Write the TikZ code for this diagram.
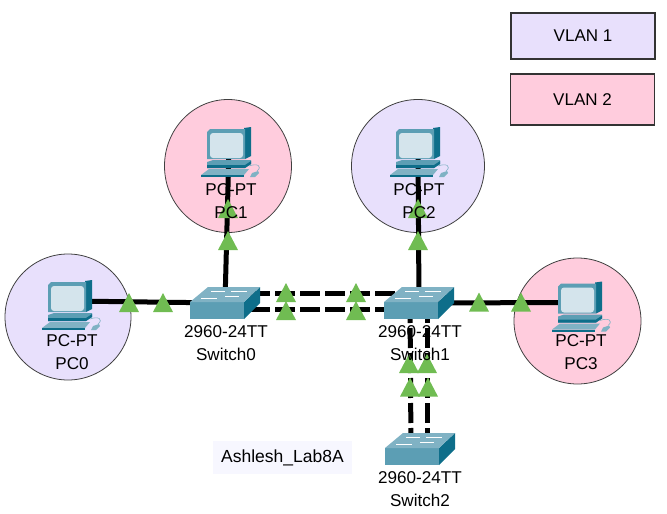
\documentclass[tikz,border=0pt]{standalone}
\usepackage{fontspec}
\setmainfont{Liberation Sans}
\usetikzlibrary{positioning}
\usetikzlibrary{shapes.geometric}
\definecolor{vlanlilac} {RGB} {232,224,252}
\definecolor{vlanpink} {RGB} {255,204,221}
\definecolor{linkgreen} {RGB} {112,188,82}
\definecolor{iconface} {RGB} {92,158,180}
\definecolor{icontop} {RGB} {128,178,196}
\definecolor{iconside} {RGB} {14,110,138}
\definecolor{iconscreen} {RGB} {212,228,236}
\tikzset{
  vlan/.style = {ellipse,draw=black!75,line width=0.8pt,inner sep=0pt},
  legendbox/.style = {rectangle,draw=black!80,line width=1.1pt,minimum width=144pt,font=\fontsize{17}{20}\selectfont},
  lbl/.style = {align=center,inner sep=0pt,font=\fontsize{17.1}{23}\selectfont},
  link/.style = {line width=5pt},
  trunk/.style = {line width=5pt,dash pattern=on 20pt off 5pt},
  up/.style = {isosceles triangle,isosceles triangle stretches,shape border rotate=90,fill=linkgreen,minimum width=20pt,minimum height=19pt,inner sep=0pt,yshift=-3pt},
  pcicon/.pic = {
    \fill [iconside] (15,-20) -- (22,-21) -- (22,8) -- (16,11) -- cycle;
    \fill [iconface] (-22,-16) -- (-19,-19) -- (16,-19) -- (16,11) -- (-22,11) -- cycle;
    \fill [iconscreen,rounded corners=3pt] (-19,-15) rectangle (14,10);
    \fill [iconface] (-22,14) -- (-16,12) -- (22,12) -- (22,16) -- (16,20) -- (-22,20) -- cycle;
    \fill [iconside] (-22,17) -- (16,17) -- (22,13) -- (22,16) -- (16,20) -- (-22,20) -- cycle;
    \fill [icontop] (-28,27) -- (-20,21) -- (20,21) -- (15,27) -- cycle;
    \fill [iconside] (-28,27) rectangle (15,29);
    \fill [icontop] (21,29) -- (23,25) -- (29,23) -- (30,25) -- (26,29) -- cycle;
    \draw [icontop,line width=0.6pt] (20,18) .. controls (28,15) and (34,18) .. (28,23);
  },
  switchicon/.pic = {
    \fill [iconside] (19,-1) -- (35,-16) -- (35,0) -- (19,16) -- cycle;
    \fill [iconface] (-35,-1) rectangle (19,16);
    \fill [icontop] (-35,-1) -- (-17,-16) -- (35,-16) -- (19,-1) -- cycle;
    \draw [white,line width=0.8pt] (-14,-12) -- (0,-12);
    \draw [white,line width=0.8pt] (6,-12) -- (22,-12);
    \draw [white,line width=0.8pt] (-24,-5) -- (-8,-5);
    \draw [white,line width=0.8pt] (0,-7) -- (14,-7);
  }
}

\begin{document}
\begin{tikzpicture}[x=1pt,y=-1pt]
  \useasboundingbox (0,0) rectangle (667,514);

  % vlan areas
  \node [vlan,fill=vlanlilac,minimum width=126pt,minimum height=126pt] (pc0) at (68,317) {};
  \node [vlan,fill=vlanpink,minimum width=127pt,minimum height=133pt] (pc1) at (228,166) {};
  \node [vlan,fill=vlanlilac,minimum width=133pt,minimum height=133pt] (pc2) at (418,166) {};
  \node [vlan,fill=vlanpink,minimum width=127pt,minimum height=126pt] (pc3) at (577.5,321) {};

  \node [legendbox,fill=vlanlilac,minimum height=46pt] (vlan1) at (583,36) {VLAN 1\hspace{6pt}};
  \node [legendbox,fill=vlanpink,minimum height=51pt] (vlan2) at (582.5,99.5) {VLAN 2\hspace{10pt}};
  \node [fill=blue!3,minimum width=139pt,minimum height=33pt,inner sep=0pt,font=\fontsize{17.5}{20}\selectfont] (lab) at (282.5,457.5) {Ashlesh\_Lab8A};

  \coordinate (pc0pic) at (70,301);
  \coordinate (pc1pic) at (229,148);
  \coordinate (pc2pic) at (418,148);
  \coordinate (pc3pic) at (580,302.5);
  \coordinate (sw0) at (225,303);
  \coordinate (sw1) at (419,303);
  \coordinate (sw2) at (420,449);

  % trunk ends
  \coordinate (sw0a) at (225,293);
  \coordinate (sw0b) at (225,309);
  \coordinate (sw1a) at (419,293);
  \coordinate (sw1b) at (419,309);
  \coordinate (sw1c) at (410,303);
  \coordinate (sw1d) at (427,303);
  \coordinate (sw2a) at (411,449);
  \coordinate (sw2b) at (427,449);

  \draw [link] (pc0pic) -- (sw0);
  \draw [link] (pc1pic) -- (sw0);
  \draw [link] (pc2pic) -- (sw1);
  \draw [link] (pc3pic) -- (sw1);
  \draw [trunk] (sw0a) -- (sw1a);
  \draw [trunk] (sw0b) -- (sw1b);
  \draw [trunk] (sw1c) -- (sw2a);
  \draw [trunk] (sw1d) -- (sw2b);

  \node [up] (t1) at (129,303) {};
  \node [up] (t2) at (163,303) {};
  \node [up] (t3) at (228,209) {};
  \node [up] (t4) at (228,241) {};
  \node [up] (t5) at (418,209) {};
  \node [up] (t6) at (418,241) {};
  \node [up] (t7) at (479,302.5) {};
  \node [up] (t8) at (521,302.5) {};
  \node [up] (t9) at (286,293) {};
  \node [up] (t10) at (286,311) {};
  \node [up] (t11) at (356,293) {};
  \node [up] (t12) at (356,311) {};
  \node [up] (t13) at (409,364) {};
  \node [up] (t14) at (427,364) {};
  \node [up] (t15) at (410,387.5) {};
  \node [up] (t16) at (428,387.5) {};

  \pic at (pc0pic) {pcicon};
  \pic at (pc1pic) {pcicon};
  \pic at (pc2pic) {pcicon};
  \pic at (pc3pic) {pcicon};
  \pic at (sw0) {switchicon};
  \pic at (sw1) {switchicon};
  \pic at (sw2) {switchicon};

  \node [lbl] (pc0lbl) at (72,352) {PC-PT\\PC0};
  \node [lbl] (pc1lbl) at (231,201) {PC-PT\\PC1};
  \node [lbl] (pc2lbl) at (419,201) {PC-PT\\PC2};
  \node [lbl] (pc3lbl) at (581,352) {PC-PT\\PC3};
  \node [lbl] (sw0lbl) at (226,343) {2960-24TT\\Switch0};
  \node [lbl] (sw1lbl) at (420,343) {2960-24TT\\Switch1};
  \node [lbl] (sw2lbl) at (420,489) {2960-24TT\\Switch2};
\end{tikzpicture}
\end{document}
